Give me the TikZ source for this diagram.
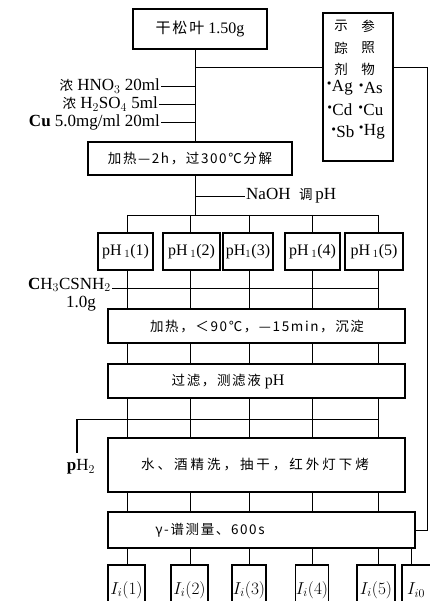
\documentclass[tikz,border=0pt]{standalone}
\usepackage{fontspec}
\setmainfont{Liberation Serif}
\newfontfamily\cjk[LetterSpace=12]{Noto Sans CJK SC}
\newcommand{\zh}[1]{{\cjk\fontsize{13.5}{15}\selectfont #1}}
\newcommand{\zhL}[1]{{\cjk\fontsize{15}{17}\selectfont #1}}
\begin{document}
\begin{tikzpicture}[x=1pt,y=-1pt,
  box/.style={draw,line width=1.1pt,inner sep=0pt,align=center},
  ln/.style={line width=0.9pt},
  lbl/.style={inner sep=1pt},
  big/.style={font=\fontsize{17}{19}\selectfont},
  font=\fontsize{16}{18}\selectfont]
\useasboundingbox (0,0) rectangle (430,601);
\clip (0,0) rectangle (430,601);
% column coordinates
\coordinate (sx) at (195,0);
\coordinate (x1) at (127,0);
\coordinate (x2) at (190,0);
\coordinate (x3) at (249,0);
\coordinate (x4) at (312,0);
\coordinate (x5) at (378,0);
\coordinate (x6) at (411,0);
\coordinate (ya) at (0,67);
\coordinate (rc) at (427,67);
\coordinate (bus) at (0,215);
\coordinate (ty) at (0,288);
\coordinate (pl) at (77,419);
% boxes
\node[box,minimum width=134pt,minimum height=40pt] (top) at (200,29) {\zhL{干松叶}\ 1.50g};
\node[box,minimum width=70pt,minimum height=148pt] (ref) at (358,87) {};
\node[box,minimum width=204pt,minimum height=33pt] (b1) at (190,158.5) {\zh{加热—2h，过300℃分解}};
\node[box,minimum width=55pt,minimum height=37pt] (p1) at (125.5,251.5) {pH\,$_{1}$(1)};
\node[box,minimum width=57pt,minimum height=37pt] (p2) at (191.5,251.5) {pH\,$_{1}$(2)};
\node[box,minimum width=50pt,minimum height=37pt] (p3) at (248,251.5) {pH$_{1}$(3)};
\node[box,minimum width=55pt,minimum height=37pt] (p4) at (312.5,251.5) {pH\,$_{1}$(4)};
\node[box,minimum width=58pt,minimum height=37pt] (p5) at (374,251.5) {pH\,$_{1}$(5)};
\node[box,minimum width=297pt,minimum height=34pt] (b2) at (256.5,326) {};
\node[lbl] (b2t) at (257,327) {\zh{加热，＜90℃，—15min，沉淀}};
\node[box,minimum width=297pt,minimum height=34pt] (b3) at (256.5,381) {};
\node[lbl] (b3t) at (228,382) {\zh{过滤，测滤液}\ pH};
\node[box,minimum width=297pt,minimum height=54pt] (b4) at (256.5,465) {};
\node[lbl] (b4t) at (255,465) {{\cjk\addfontfeature{LetterSpace=22}\fontsize{13.5}{15}\selectfont 水、酒精洗，抽干，红外灯下烤}};
\node[box,minimum width=307pt,minimum height=36pt] (b5) at (261.5,530) {};
\node[lbl] (b5t) at (210,530) {\zh{γ-谱测量、600s}};
\begin{scope}[big]
\node[box,minimum width=37pt,minimum height=50pt] (I1) at (126.5,590) {\raisebox{3pt}{$I_i(1)$}};
\node[box,minimum width=37pt,minimum height=50pt] (I2) at (189.5,590) {\raisebox{3pt}{$I_i(2)$}};
\node[box,minimum width=34pt,minimum height=50pt] (I3) at (249,590) {\raisebox{3pt}{$I_i(3)$}};
\node[box,minimum width=32pt,minimum height=50pt] (I4) at (312,590) {\raisebox{3pt}{$I_i(4)$}};
\node[box,minimum width=38pt,minimum height=50pt] (I5) at (376,590) {\raisebox{3pt}{$I_i(5)$}};
\node[box,minimum width=38pt,minimum height=50pt] (I6) at (421,590) {\raisebox{3pt}{\hspace*{-10pt}$I_{i0}$}};
\end{scope}
% reference box content
\node[lbl] (r1) at (341,26) {\zh{示}};
\node[lbl] (r2) at (368,26) {\zh{参}};
\node[lbl] (r3) at (341,48) {\zh{踪}};
\node[lbl] (r4) at (368,48) {\zh{照}};
\node[lbl] (r5) at (341,69) {\zh{剂}};
\node[lbl] (r6) at (368,69) {\zh{物}};
\begin{scope}[big]
\node[lbl] (r7) at (340,88) {$^{\scriptscriptstyle\bullet}$Ag};
\node[lbl] (r8) at (371,88) {$^{\scriptscriptstyle\bullet}$As};
\node[lbl] (r9) at (340,110) {$^{\scriptscriptstyle\bullet}$Cd};
\node[lbl] (r10) at (371,110) {$^{\scriptscriptstyle\bullet}$Cu};
\node[lbl] (r11) at (343,132) {$^{\scriptscriptstyle\bullet}$Sb};
\node[lbl] (r12) at (372,132) {$^{\scriptscriptstyle\bullet}$Hg};
\end{scope}
% side labels
\begin{scope}[big]
\node[lbl,anchor=east] (in1) at (161,86) {\zh{浓}\ HNO$_3$\ 20ml};
\node[lbl,anchor=east] (in2) at (159,104) {\zh{浓}\ H$_2$SO$_4$\ 5ml};
\node[lbl,anchor=east] (in3) at (161,122) {\textbf{Cu}\ 5.0mg/ml\ 20ml};
\end{scope}
\node[lbl,anchor=west,big] (naoh) at (245,196) {NaOH\enspace\zh{调}\,pH};
\node[lbl,anchor=east,big] (thio) at (112,285) {\textbf{C}H$_3$CSNH$_2$};
\node[lbl,big] (thiog) at (81,304) {1.0g};
\node[lbl,big] (ph2) at (81,467) {\textbf{p}H$_2$};
% connectors
\draw[ln] (top.south -| sx) -- (sx |- b1.north);
\draw[ln] (sx |- ya) -- (ref.west |- ya);
\draw[ln] (ref.east |- rc) -- (rc) |- (b5.east);
\draw[ln] (in1.east) -- (in1.east -| sx);
\draw[ln] (in2.east) -- (in2.east -| sx);
\draw[ln] (in3.east) -- (in3.east -| sx);
\draw[ln] (b1.south -| sx) -- (sx |- bus);
\draw[ln] (sx |- naoh.west) -- (naoh.west);
\draw[ln] (x1 |- bus) -- (x5 |- bus);
\foreach \i in {1,...,5}{
  \draw[ln] (x\i |- bus) -- (x\i |- p\i.north);
  \draw[ln] (x\i |- p\i.south) -- (x\i |- b2.north);
  \draw[ln] (x\i |- b2.south) -- (x\i |- b3.north);
  \draw[ln] (x\i |- b3.south) -- (x\i |- b4.north);
  \draw[ln] (x\i |- b4.south) -- (x\i |- b5.north);
  \draw[ln] (x\i |- b5.south) -- (x\i |- I\i.north);
}
\draw[ln] (x6 |- b5.south) -- (x6 |- I6.north);
\draw[ln] (thio.east |- ty) -- (x5 |- ty);
\draw[ln] (pl) -- (x5 |- pl);
\draw[line width=1.6pt,shorten >=5pt] (pl) -- (pl |- ph2.north);
\end{tikzpicture}
\end{document}
